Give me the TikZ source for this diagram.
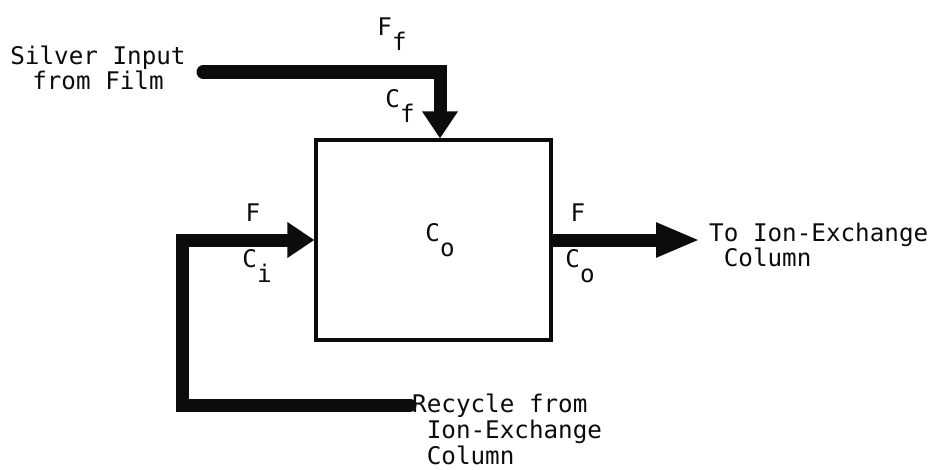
\documentclass[tikz,border=0pt]{standalone}
\usepackage{fontspec}
\usepackage{tikz}
\usetikzlibrary{arrows.meta,positioning,calc}
\newfontfamily\flowfont{DejaVu Sans Mono}
\definecolor{fsInk}{RGB}{12,12,12}
\newcommand{\lowsub}[2]{#1\raisebox{-0.6em}{#2}}

\begin{document}
\begin{tikzpicture}[
  every node/.style={font=\flowfont\fontsize{13.8}{14.6}\selectfont,text=fsInk},
  tank/.style ={draw=fsInk,line width=1.8pt,minimum width=4.7cm,
                minimum height=4cm,inner sep=0pt},
  flow/.style ={draw=fsInk,line width=7.4pt,line cap=round,line join=miter,
                -{Triangle[length=0.54cm,width=0.68cm]}},
  lbl/.style  ={inner sep=1pt}
]
\useasboundingbox (0,0) rectangle (18.88,-9.38);

% mixing tank
\node[tank] (box) at (8.67,-4.8) {};
\node[lbl] (co) at (8.8,-4.8) {\lowsub{C}{o}};

% flow end points
\coordinate (feedin) at (4.06,-1.44);
\coordinate (fcorner) at (8.8,-1.44);
\coordinate (recin)  at (8.2,-8.1);
\coordinate (rloop)  at (3.64,-8.1);
\coordinate (outend) at (14.0,-4.8);

% arrows
\draw[flow] (feedin) -- (fcorner) -- (fcorner |- box.north);
\draw[flow] (recin) -- (rloop) |- (box.west);
\draw[flow,line cap=butt,-{Triangle[length=0.88cm,width=0.64cm]}]
   (box.east) -- (outend);

% stream labels
\node[lbl] (ff)  at (7.84,-0.68) {\lowsub{F}{f}};
\node[lbl] (cf)  at (8.0,-2.12)  {\lowsub{C}{f}};
\node[lbl] (fin) at (5.06,-4.26) {F};
\node[lbl] (ci)  at (5.14,-5.32) {\lowsub{C}{i}};
\node[lbl] (fout) at (11.56,-4.26) {F};
\node[lbl] (cout) at (11.6,-5.32) {\lowsub{C}{o}};

% stream names
\node[align=center] (silver) at (1.96,-1.36) {Silver Input\\from Film};
\node[align=left,anchor=west] (toix) at (14.06,-4.9)
   {To Ion-Exchange\\\phantom{x}Column};
\node[align=left,anchor=north west] (recy) at (8.12,-7.76)
   {Recycle from\\\phantom{x}Ion-Exchange\\\phantom{x}Column};
\end{tikzpicture}
\end{document}
